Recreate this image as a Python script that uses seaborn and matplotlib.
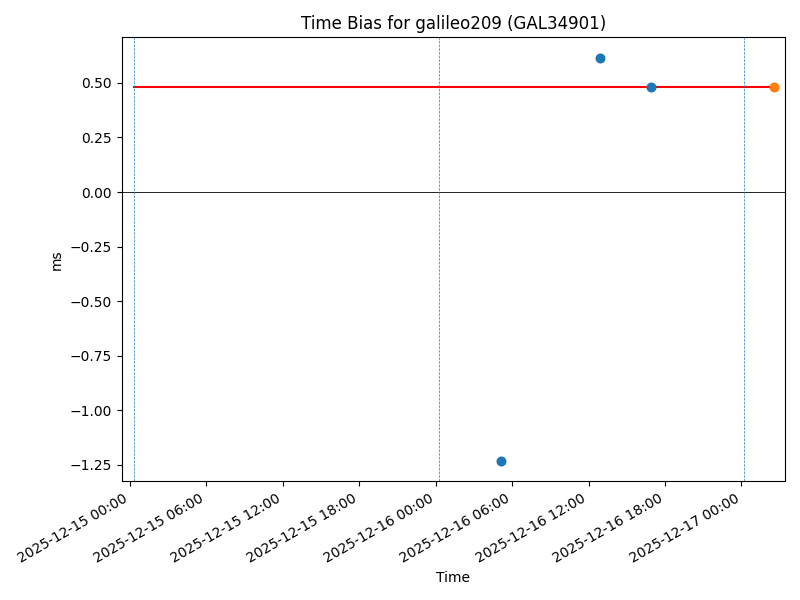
"""
Time bias scatter for a single Galileo satellite.
"""

import pandas as pd
import seaborn as sns
import matplotlib.pyplot as plt
import matplotlib.dates as mdates

# Observed time bias samples (ms)
times = ['2025-12-16 05:08', '2025-12-16 12:56', '2025-12-16 16:54']
bias_ms = [-1.234, 0.615, 0.480]

# Latest sample (highlighted)
latest_time = ['2025-12-17 02:32']
latest_bias = [0.480]

# Reference level line
ref_times = ['2025-12-15 00:17', '2025-12-17 02:32']
ref_level = [0.480, 0.480]

# Day markers
day_marks = ['2025-12-15 00:17', '2025-12-16 00:14', '2025-12-17 00:14']

df = pd.DataFrame({'Time': pd.to_datetime(times), 'ms': bias_ms})
latest = pd.DataFrame({'Time': pd.to_datetime(latest_time), 'ms': latest_bias})
ref = pd.DataFrame({'Time': pd.to_datetime(ref_times), 'ms': ref_level})

fig, ax = plt.subplots(figsize=(8, 6), dpi=100)

sns.lineplot(data=ref, x='Time', y='ms', color='red', ax=ax)
sns.scatterplot(data=df, x='Time', y='ms', color='C0', s=52, linewidth=0, ax=ax, zorder=3)
sns.scatterplot(data=latest, x='Time', y='ms', color='C1', s=52, linewidth=0, ax=ax, zorder=3)

ax.axhline(0, color='black', linewidth=0.6)
for t in day_marks:
    ax.axvline(pd.Timestamp(t), color='C0', linestyle='--', linewidth=0.5)

ax.set_xlim(pd.Timestamp('2025-12-14 23:22'), pd.Timestamp('2025-12-17 03:25'))
ax.set_ylim(-1.326, 0.709)
ax.xaxis.set_major_locator(mdates.HourLocator(byhour=[0, 6, 12, 18]))
ax.xaxis.set_major_formatter(mdates.DateFormatter('%Y-%m-%d %H:%M'))

ax.set_title('Time Bias for galileo209 (GAL34901)')
ax.set_xlabel('Time')
ax.set_ylabel('ms')
fig.autofmt_xdate()

plt.tight_layout()
plt.savefig('out.png')
